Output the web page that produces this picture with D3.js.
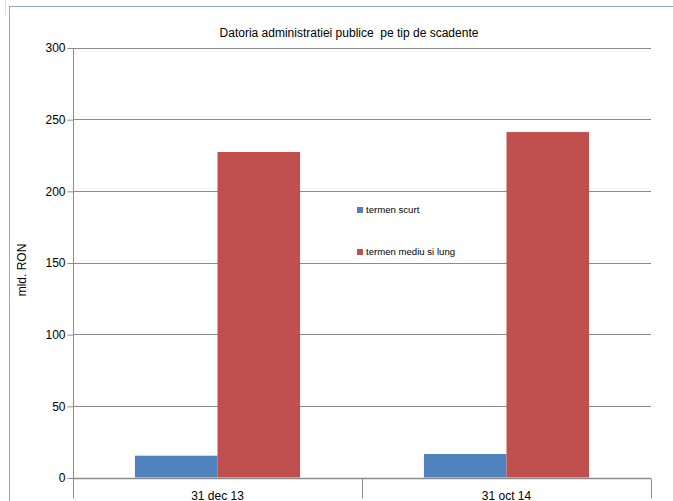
<!DOCTYPE html>
<html><head><meta charset="utf-8">
<script src="https://cdn.jsdelivr.net/npm/d3@7"></script>
<style>body{margin:0;background:#fff}svg{display:block}text{font-family:"Liberation Sans",Arial,sans-serif;fill:#000}</style>
</head><body>
<script>
const categories = ["31 dec 13", "31 oct 14"];
const seriesNames = ["termen scurt", "termen mediu si lung"];
const termenScurt = [15.2, 16.4];
const termenMediuSiLung = [227.1, 241.0];
const yTicks = [0, 50, 100, 150, 200, 250, 300];
const colors = ["#4F81BD", "#C0504D"];
const title = "Datoria administratiei publice  pe tip de scadente";
const yLabel = "mld. RON";

const W = 673, H = 501;
const m = {left: 73, right: 651, top: 47.5, bottom: 477.5};
const svg = d3.select("body").append("svg").attr("width", W).attr("height", H);

// frame
svg.append("line").attr("x1", 5.5).attr("x2", 5.5).attr("y1", 0).attr("y2", 15).attr("stroke", "#d8dde6").attr("stroke-width", 1);
svg.append("line").attr("x1", 9).attr("x2", W).attr("y1", 6.5).attr("y2", 6.5).attr("stroke", "#8fa9d2").attr("stroke-width", 1);
svg.append("line").attr("x1", 9.5).attr("x2", 9.5).attr("y1", 6).attr("y2", H).attr("stroke", "#8fa9d2").attr("stroke-width", 1);

const y = d3.scaleLinear().domain([0, 300]).range([m.bottom, m.top]);
const x0 = d3.scaleBand().domain(categories).range([m.left, m.right]).paddingInner(0).paddingOuter(0);
const x1 = d3.scaleBand().domain(seriesNames).range([0, x0.bandwidth()]).paddingInner(0).paddingOuter(0.75);

// gridlines
svg.append("g").selectAll("line").data(yTicks.filter(d => d > 0)).join("line")
  .attr("x1", m.left).attr("x2", m.right)
  .attr("y1", d => Math.round(y(d)) + 0.5).attr("y2", d => Math.round(y(d)) + 0.5)
  .attr("stroke", "#8c8c8c").attr("stroke-width", 1);

// y axis
const yAxis = svg.append("g").attr("transform", `translate(${m.left + 0.5},0.5)`)
  .call(d3.axisLeft(y).tickValues(yTicks).tickSize(6).tickPadding(2).tickFormat(d3.format("d")));
yAxis.select(".domain").attr("stroke", "#8c8c8c").attr("d", `M0,${m.top}V${m.bottom + 19}`);
yAxis.selectAll(".tick line").attr("stroke", "#8c8c8c");
yAxis.selectAll(".tick text").attr("font-size", 12).attr("font-family", "Liberation Sans, Arial, sans-serif").attr("fill", "#000");

// bars
const data = categories.map((c, i) => ({c, vals: [termenScurt[i], termenMediuSiLung[i]]}));
const g = svg.append("g").selectAll("g").data(data).join("g")
  .attr("transform", d => `translate(${x0(d.c)},0)`);
g.selectAll("rect").data(d => d.vals.map((v, j) => ({v, s: seriesNames[j], j}))).join("rect")
  .attr("x", d => x1(d.s)).attr("width", x1.bandwidth())
  .attr("y", d => y(d.v)).attr("height", d => y(0) - y(d.v))
  .attr("fill", d => colors[d.j]);

// x axis
const xAxis = svg.append("g").attr("transform", `translate(0,${Math.round(m.bottom) + 0.5})`);
xAxis.append("line").attr("x1", m.left).attr("x2", m.right).attr("stroke", "#8c8c8c").attr("stroke-width", 1.5);
const bounds = [m.left, ...categories.map(c => x0(c) + x0.bandwidth())];
xAxis.selectAll("line.tk").data(bounds).join("line").attr("class", "tk")
  .attr("x1", d => Math.round(d) + 0.5).attr("x2", d => Math.round(d) + 0.5).attr("y1", 0).attr("y2", 20)
  .attr("stroke", "#8c8c8c").attr("stroke-width", 1);
xAxis.selectAll("text").data(categories).join("text")
  .attr("x", d => x0(d) + x0.bandwidth() / 2).attr("y", 21)
  .attr("text-anchor", "middle").attr("font-size", 12).text(d => d);

// title
svg.append("text").attr("x", 349).attr("y", 37).attr("text-anchor", "middle").attr("font-size", 12)
  .style("white-space", "pre").attr("xml:space", "preserve").text(title);

// y label
svg.append("text").attr("transform", "translate(26,270) rotate(-90)").attr("text-anchor", "middle").attr("font-size", 12).text(yLabel);

// legend
const leg = svg.append("g").selectAll("g").data(seriesNames).join("g")
  .attr("transform", (d, i) => `translate(357,${207 + i * 42})`);
leg.append("rect").attr("width", 6).attr("height", 6).attr("fill", (d, i) => colors[i]);
leg.append("text").attr("x", 9).attr("y", 6).attr("font-size", 9.6).text(d => d);
</script>
</body></html>
